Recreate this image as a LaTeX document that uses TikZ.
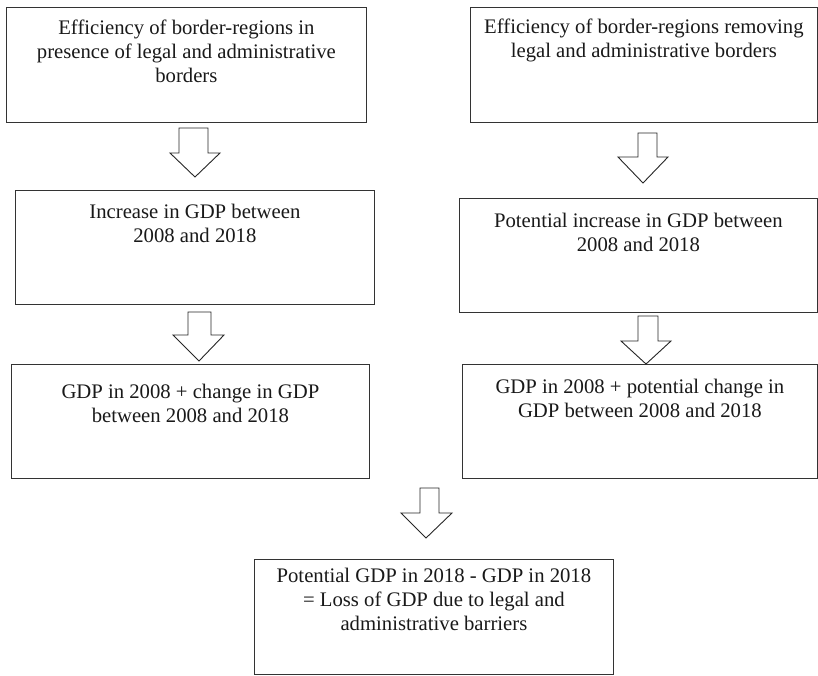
\documentclass[tikz,border=0pt]{standalone}
\usepackage{fontspec}
\setmainfont{Liberation Serif}
\newcommand{\boxtext}[4]{\parbox[c][#2pt][t]{#1pt}{\centering\rule{0pt}{#3pt}#4}}
\begin{document}
\begin{tikzpicture}[x=1pt,y=-1pt,
  bx/.style={draw=black!80, line width=0.8pt, inner sep=0pt, anchor=north west,
    font=\fontsize{20.7}{23.8}\selectfont, text=black!90},
  blk/.style={draw=black!85, line width=0.9pt, fill=white, line join=miter}]
\useasboundingbox (0,0) rectangle (818,675);
\node[bx] (b1) at (6,7) {\boxtext{360}{115}{27}{Efficiency of border-regions in\\presence of legal and administrative\\borders}};
\node[bx] (b2) at (470,7) {\boxtext{347}{115}{26}{Efficiency of border-regions removing\\legal and administrative borders}};
\node[bx] (b3) at (15,190) {\boxtext{359}{114}{28}{Increase in GDP between\\2008 and 2018}};
\node[bx] (b4) at (459,198) {\boxtext{358}{114}{29}{Potential increase in GDP between\\2008 and 2018}};
\node[bx] (b5) at (11,364) {\boxtext{358}{114}{34}{GDP in 2008 + change in GDP\\between 2008 and 2018}};
\node[bx] (b6) at (462,364) {\boxtext{355}{114}{29}{GDP in 2008 + potential change in\\GDP between 2008 and 2018}};
\node[bx] (b7) at (254,559) {\boxtext{359}{115}{23}{Potential GDP in 2018 - GDP in 2018\\= Loss of GDP due to legal and\\administrative barriers}};
% block arrows
\draw[blk] (179,128) -- (208,128) -- (208,153) -- (220,153) -- (195,177) -- (170,153) -- (179,153) -- cycle;
\draw[blk] (638,133) -- (657,133) -- (657,157) -- (668,157) -- (643,183) -- (618,157) -- (638,157) -- cycle;
\draw[blk] (188,312) -- (211,312) -- (211,335) -- (224,335) -- (199,361) -- (173,335) -- (188,335) -- cycle;
\draw[blk] (638,316) -- (658,316) -- (658,341) -- (671,341) -- (646,364) -- (621,341) -- (638,341) -- cycle;
\draw[blk] (420,488) -- (439,488) -- (439,513) -- (452,513) -- (426,538) -- (401,513) -- (420,513) -- cycle;
\end{tikzpicture}
\end{document}
